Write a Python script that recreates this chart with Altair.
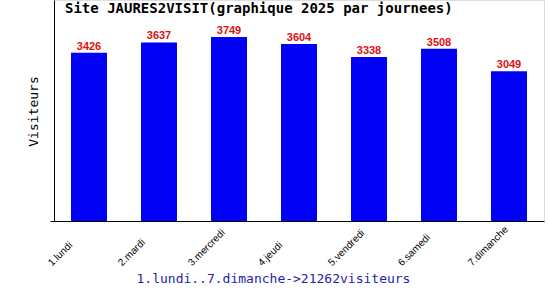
import altair as alt
import pandas as pd

days = ["1.lundi", "2.mardi", "3.mercredi", "4.jeudi", "5.vendredi", "6.samedi", "7.dimanche"]
visits = [3426, 3637, 3749, 3604, 3338, 3508, 3049]
title_text = "Site JAURES2VISIT(graphique 2025 par journees)"
x_title = "1.lundi..7.dimanche->21262visiteurs"
y_title = "Visiteurs"

df = pd.DataFrame({"day": days, "visits": visits})

x = alt.X("day:N", sort=days,
          scale=alt.Scale(paddingInner=0.486, paddingOuter=0.243),
          axis=alt.Axis(title=x_title, labelAngle=-45, labelAlign="left", labelBaseline="middle",
                        labelOffset=-39, labelPadding=43, ticks=False, domainColor="black",
                        labelFont="Liberation Sans", labelFontSize=10, labelColor="black",
                        titleFont="DejaVu Sans Mono", titleFontSize=13, titleFontWeight="normal",
                        titleColor="#2424a8", titleX=82, titleY=61, titleAlign="left",
                        titleBaseline="alphabetic"))
y = alt.Y("visits:Q", scale=alt.Scale(domain=[0, 4500], nice=False),
          axis=alt.Axis(title=y_title, values=[0], labels=False, tickSize=4, tickColor="black",
                        domainColor="black", grid=False,
                        titleFont="DejaVu Sans Mono", titleFontSize=13, titleFontWeight="normal",
                        titleColor="black", titleX=-17, titleY=111, titleAlign="center",
                        titleBaseline="alphabetic", titleAngle=-90))

bars = alt.Chart(df).mark_bar(color="#0000f5").encode(x=x, y=y)
labels = alt.Chart(df).mark_text(color="#e01010", font="Liberation Sans", fontSize=11,
                                 fontWeight="bold", baseline="bottom", dy=-1).encode(
    x=alt.X("day:N", sort=days), y="visits:Q", text="visits:Q")
title = alt.Chart(pd.DataFrame({"t": [title_text]})).mark_text(
    font="DejaVu Sans Mono", fontSize=14, fontWeight="bold", align="left", baseline="top",
    color="black").encode(x=alt.value(11), y=alt.value(2), text="t:N")

chart = (bars + labels + title).properties(
    width=490, height=221,
    autosize=alt.AutoSizeParams(type="none"),
    padding={"left": 54, "top": 0, "right": 6, "bottom": 79},
).configure_view(stroke=None).configure(background="white")

chart.save("out.html", embed_options={"renderer": "svg", "actions": False})
